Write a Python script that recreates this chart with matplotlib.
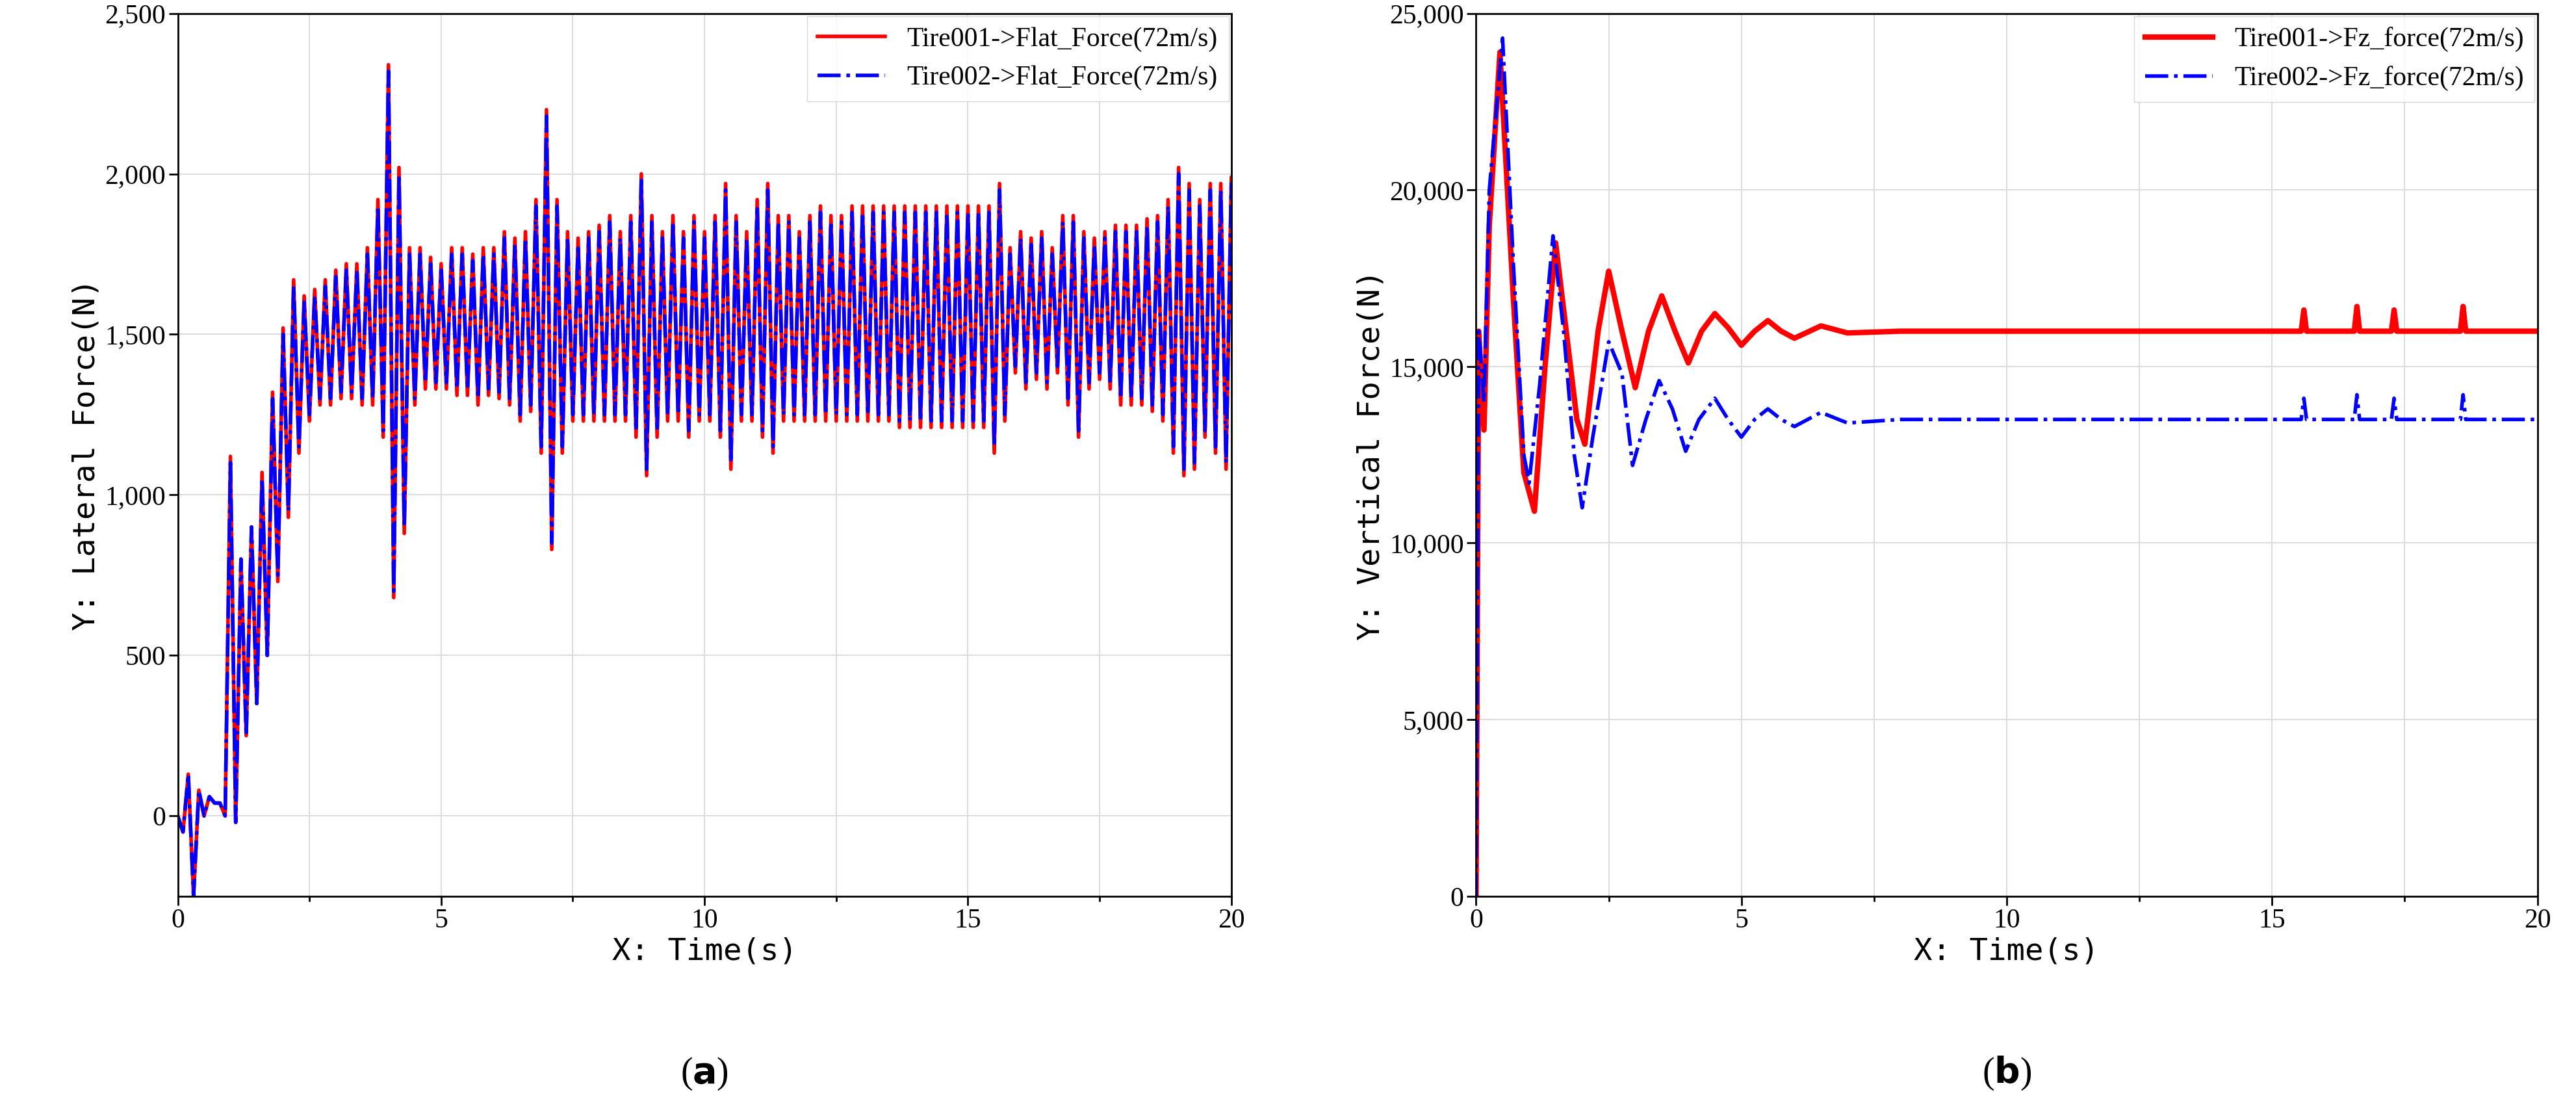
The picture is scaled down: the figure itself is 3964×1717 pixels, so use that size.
import matplotlib
matplotlib.use("Agg")
import matplotlib.pyplot as plt
import numpy as np

# ---- Panel (a) data: upper/lower swings every 0.2 s
ta = [round(0.2*i, 1) for i in range(101)]
a_hi = [0,130,80,60,40,1100,800,900,1050,1300,1500,1650,1600,1620,1650,1680,1700,1700,1750,1900,
        2320,2000,1750,1750,1720,1700,1750,1750,1730,1750,1750,1800,1780,1800,1900,2180,1900,1800,1780,1800,
        1820,1850,1800,1850,1980,1850,1800,1850,1800,1850,1800,1850,1950,1850,1800,1900,1950,1850,1850,1800,
        1850,1880,1850,1850,1880,1880,1880,1880,1880,1880,1880,1880,1880,1880,1880,1880,1880,1880,1950,1750,
        1800,1780,1800,1750,1850,1850,1800,1780,1800,1820,1820,1820,1840,1850,1900,2000,1950,1900,1950,1950,1970]
a_lo = [-50,-250,0,40,0,-20,250,350,500,750,950,1150,1250,1300,1300,1320,1320,1300,1300,1200,
        700,900,1300,1350,1350,1350,1330,1330,1300,1330,1320,1300,1250,1280,1150,850,1150,1250,1250,1250,
        1250,1250,1250,1200,1080,1200,1250,1250,1200,1250,1250,1200,1100,1250,1250,1200,1150,1250,1250,1250,
        1250,1250,1250,1250,1250,1250,1250,1250,1230,1230,1230,1230,1230,1230,1230,1230,1230,1150,1250,1400,
        1350,1380,1350,1400,1300,1200,1350,1380,1350,1300,1300,1300,1280,1250,1150,1080,1100,1200,1150,1100,1150]
a_hi_red = [v + 20 if v > 1000 else v for v in a_hi]
a_lo_red = [v - 20 if v > 500 else v for v in a_lo]

# ---- Panel (b) data
tb_red = [0,0.05,0.15,0.25,0.45,0.7,0.9,1.1,1.3,1.5,1.7,1.9,2.05,2.3,2.5,2.75,3.0,3.25,3.5,3.75,4.0,4.25,4.5,
          4.75,5.0,5.25,5.5,5.75,6.0,6.5,7.0,8,9,10,11,12,13,14,15,15.55,15.6,15.65,16,16.55,16.6,16.65,
          17.25,17.3,17.35,18,18.55,18.6,18.65,19,20]
b_red = [0,16000,13200,19000,23900,17000,12000,10900,15000,18500,16000,13500,12800,16000,17700,16000,14400,
         16000,17000,16000,15100,16000,16500,16100,15600,16000,16300,16000,15800,16150,15950,16000,16000,16000,
         16000,16000,16000,16000,16000,16000,16600,16000,16000,16000,16700,16000,16000,16600,16000,16000,16000,
         16700,16000,16000,16000]
tb_blue = [0,0.05,0.15,0.25,0.5,0.7,0.9,1.0,1.2,1.45,1.65,1.85,2.0,2.2,2.5,2.75,2.95,3.2,3.45,3.7,3.95,4.2,
           4.5,4.75,5.0,5.25,5.5,5.75,6.0,6.5,7.0,8,9,10,11,12,13,14,15,15.55,15.6,15.65,16,16.55,16.6,16.65,
           17.25,17.3,17.35,18,18.55,18.6,18.65,19,20]
b_blue = [0,16000,14000,20000,24300,18000,12500,11700,14500,18700,16000,12500,11000,13000,15700,14800,12200,
          13500,14600,13800,12600,13500,14100,13500,13000,13500,13800,13500,13300,13700,13400,13500,13500,13500,
          13500,13500,13500,13500,13500,13500,14100,13500,13500,13500,14200,13500,13500,14100,13500,13500,13500,
          14200,13500,13500,13500]

def zig(t, hi, lo):
    xs, ys = [], []
    for i in range(len(t)):
        xs += [t[i], t[i] + 0.1]
        ys += [hi[i], lo[i]]
    return xs, ys

tick_font = "Liberation Serif"
lab_font = "DejaVu Sans Mono"
fig = plt.figure(figsize=(39.64, 17.17), dpi=100)
ax1 = fig.add_axes([0.069, 0.197, 0.409, 0.791])
ax2 = fig.add_axes([0.573, 0.197, 0.412, 0.791])

xr, yr = zig(ta, a_hi_red, a_lo_red)
xb, yb = zig(ta, a_hi, a_lo)
ax1.plot(xr, yr, color="red", lw=4, label="Tire001->Flat_Force(72m/s)")
ax1.plot(xb, yb, color="blue", lw=4, ls="-.", label="Tire002->Flat_Force(72m/s)")
ax1.set_xlim(0, 20); ax1.set_ylim(-250, 2500)
ax1.set_yticks([0, 500, 1000, 1500, 2000, 2500])
ax1.set_yticklabels(["0", "500", "1,000", "1,500", "2,000", "2,500"])
ax1.set_ylabel("Y: Lateral Force(N)", fontsize=34, family=lab_font)

ax2.plot(tb_red, b_red, color="red", lw=6, label="Tire001->Fz_force(72m/s)")
ax2.plot(tb_blue, b_blue, color="blue", lw=4, ls="-.", label="Tire002->Fz_force(72m/s)")
ax2.set_xlim(0, 20); ax2.set_ylim(0, 25000)
ax2.set_yticks(range(0, 25001, 5000))
ax2.set_yticklabels(["0", "5,000", "10,000", "15,000", "20,000", "25,000"])
ax2.set_ylabel("Y: Vertical Force(N)", fontsize=34, family=lab_font)

for ax, tag in ((ax1, "a"), (ax2, "b")):
    ax.set_xticks([0, 5, 10, 15, 20])
    ax.set_xticks(np.arange(0, 20.1, 2.5), minor=True)
    ax.grid(True, which="major", color="#dddddd", lw=1.5)
    ax.grid(True, which="minor", axis="x", color="#dddddd", lw=1.5)
    ax.tick_params(labelsize=30, width=2, length=10, direction="out")
    ax.tick_params(which="minor", width=2, length=6)
    for lbl in ax.get_xticklabels() + ax.get_yticklabels():
        lbl.set_family(tick_font)
    for s in ax.spines.values():
        s.set_linewidth(2)
    ax.set_xlabel("X: Time(s)", fontsize=34, family=lab_font)
    ax.legend(loc="upper right", fontsize=28, prop={"family": tick_font, "size": 30},
              frameon=True, fancybox=False, edgecolor="#cccccc", borderaxespad=0.1,
              handlelength=2.5)
    fig.text((ax.get_position().x0 + ax.get_position().x1) / 2, 0.03,
             "(" + r"$\mathbf{" + tag + "}$" + ")", ha="center", fontsize=40, family=tick_font)

fig.savefig("out.png", dpi=100)
